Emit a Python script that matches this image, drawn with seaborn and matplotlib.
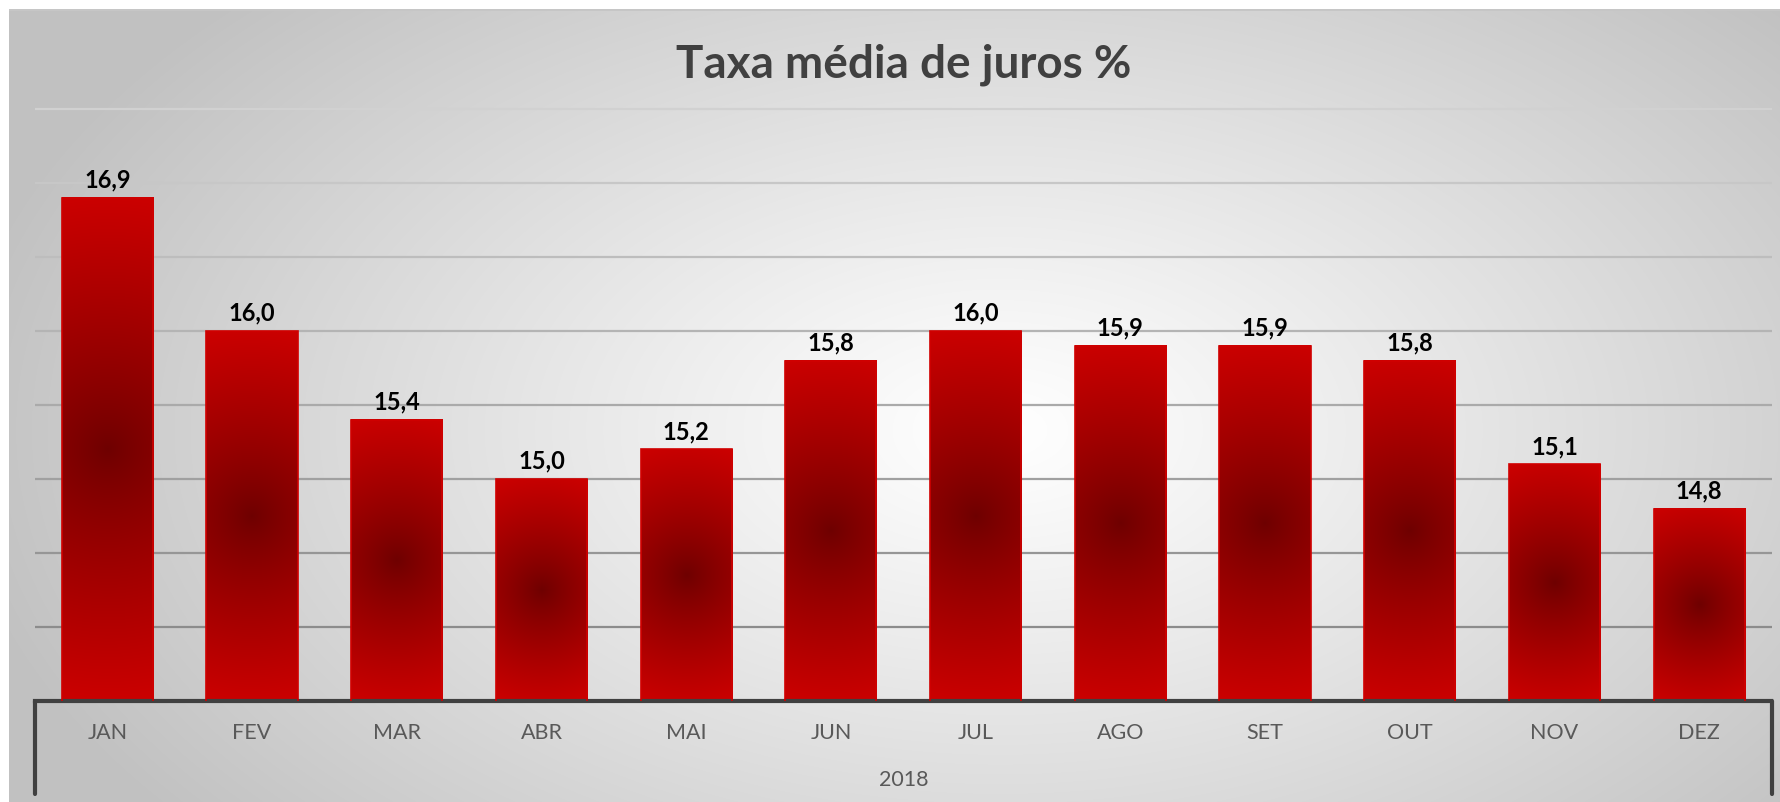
import numpy as np
import matplotlib
matplotlib.use("Agg")
import matplotlib.pyplot as plt
from matplotlib.lines import Line2D
from matplotlib.colors import to_rgb
import seaborn as sns
import pandas as pd

# ---------------- data ----------------
months = ["JAN", "FEV", "MAR", "ABR", "MAI", "JUN", "JUL", "AGO", "SET", "OUT", "NOV", "DEZ"]
rates = [16.9, 16.0, 15.4, 15.0, 15.2, 15.8, 16.0, 15.9, 15.9, 15.8, 15.1, 14.8]
year_label = "2018"
title = "Taxa média de juros %"

W, H = 1780, 802
sns.set_theme(style="white")
plt.rcParams['font.family'] = ['Lato', 'DejaVu Sans']

fig = plt.figure(figsize=(W / 100, H / 100), dpi=100)

# ---------------- background (radial grey gradient) ----------------
bg = fig.add_axes([0, 0, 1, 1], zorder=-10)
yy, xx = np.mgrid[0:H, 0:W]
d = np.sqrt(((xx - 1000) / 1050.0) ** 2 + ((yy - 430) / 620.0) ** 2)
t = np.clip(d, 0, 1)
g = 1.0 - t ** 1.1 * (1 - 0.76)
img = np.dstack([g, g, g])
img[:9, :, :] = 1.0
img[:, :9, :] = 1.0
img[9:11, 9:, :] = 0.78
bg.imshow(img, aspect='auto', interpolation='bilinear')
bg.axis('off')

# ---------------- main axes ----------------
y0, y1 = 13.5, 17.6
unit_px = 148.0
ax_left, ax_right = 35.0, 1771.5
ax_bottom_px = 701.0
ax = fig.add_axes([ax_left / W, (H - ax_bottom_px) / H,
                   (ax_right - ax_left) / W, (y1 - y0) * unit_px / H])
ax.patch.set_alpha(0)

df = pd.DataFrame({"mes": months, "taxa": rates})
sns.barplot(data=df, x="mes", y="taxa", color="#C00000", width=0.63,
            saturation=1, ax=ax, errorbar=None)
ax.set_xlim(-0.5, len(months) - 0.5)
ax.set_ylim(y0, y1)
ax.set_yticks(np.arange(14.0, 17.51, 0.5))
ax.set_yticklabels([])
ax.tick_params(axis='y', length=0)
ax.set_xlabel("")
ax.set_ylabel("")
ax.set_axisbelow(True)
ax.grid(axis='y', linewidth=1.6)
gl = ax.yaxis.get_gridlines()
n = len(gl)
for i, line in enumerate(gl):
    f = i / max(n - 1, 1)  # 0 bottom -> 1 top
    c = 0.55 + f * (0.82 - 0.55)
    line.set_color((c, c, c))
ax.grid(axis='x', visible=False)
for s in ['left', 'right', 'top']:
    ax.spines[s].set_visible(False)
ax.spines['bottom'].set_color('#404040')
ax.spines['bottom'].set_linewidth(3)
ax.tick_params(axis='x', length=0, pad=16, labelsize=15.5, labelcolor='#595959')

# gradient fill for bars
fig.canvas.draw()
dark = np.array(to_rgb("#6E0000"))
bright = np.array(to_rgb("#CC0000"))
for patch, v in zip(ax.patches, rates):
    x0 = patch.get_x()
    w = patch.get_width()
    p = ax.transData.transform([[x0, y0], [x0 + w, v]])
    pw = abs(p[1, 0] - p[0, 0])
    ph = abs(p[1, 1] - p[0, 1])
    ny, nx = 300, 80
    U, V = np.meshgrid(np.linspace(-0.5, 0.5, nx) * pw, np.linspace(-0.5, 0.5, ny) * ph)
    R = 0.5 * np.sqrt(pw ** 2 + ph ** 2)
    tt = np.clip(np.sqrt(U ** 2 + V ** 2) / R, 0, 1) ** 0.85
    arr = dark[None, None, :] + (bright - dark)[None, None, :] * tt[:, :, None]
    ax.imshow(arr, extent=[x0, x0 + w, y0, v], aspect='auto', zorder=2,
              interpolation='bilinear')
    patch.set_facecolor('none')
    patch.set_edgecolor('#D00000')
    patch.set_linewidth(1.2)
    patch.set_zorder(3)
ax.set_xlim(-0.5, len(months) - 0.5)
ax.set_ylim(y0, y1)

labels = [f"{v:.1f}".replace('.', ',') for v in rates]
ax.bar_label(ax.containers[0], labels=labels, padding=4.5, fontsize=17,
             fontweight='bold', color='black')

# multi-level category axis decorations
cx = (ax_left + ax_right) / 2
for xp in (ax_left, ax_right):
    fig.add_artist(Line2D([xp / W, xp / W], [(H - ax_bottom_px) / H, (H - 794) / H],
                          transform=fig.transFigure, color='#404040', linewidth=3))
fig.text(cx / W, 1 - 780 / H, year_label, ha='center', va='center',
         fontsize=15.5, color='#595959')

fig.text(cx / W, 1 - 77 / H, title, ha='center', va='baseline',
         fontsize=33, fontweight='bold', color='#404040')

fig.savefig("out.png", dpi=100)
